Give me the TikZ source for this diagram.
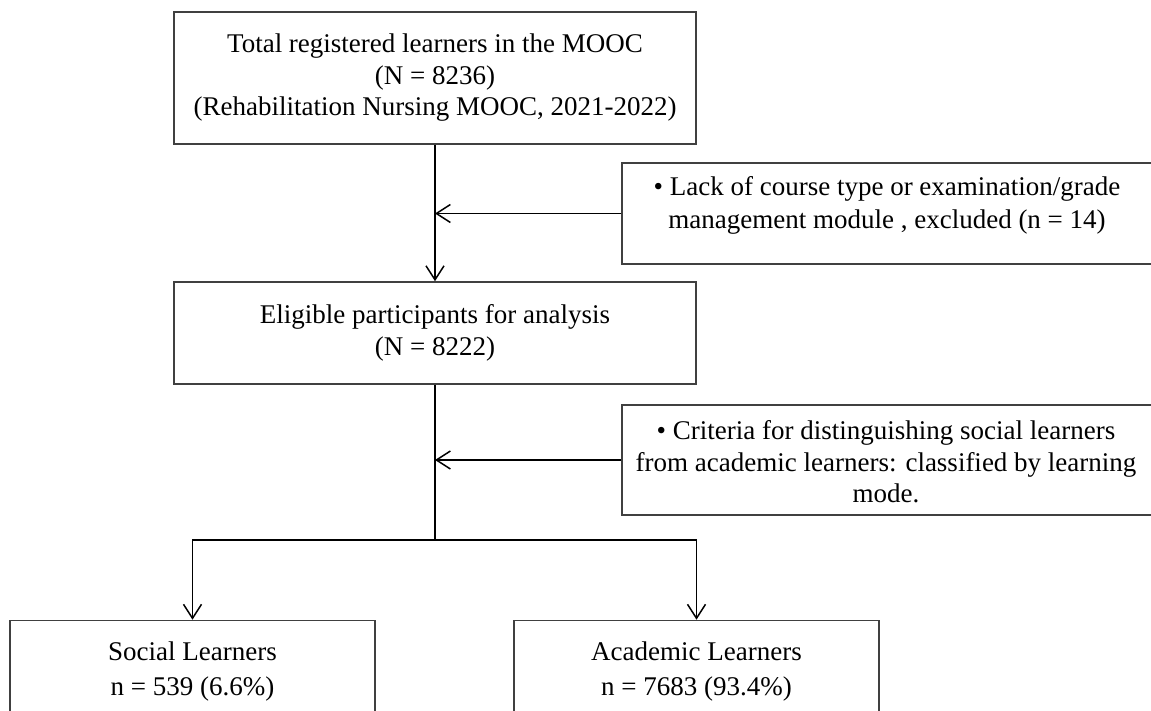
\documentclass[tikz,border=0pt]{standalone}
\usepackage{fontspec}
\setmainfont{Liberation Serif}
\usetikzlibrary{arrows.meta,positioning}

\begin{document}
\begin{tikzpicture}[x=1pt,y=-1pt,
		box/.style={draw=black!75,line width=1.6pt,minimum width=522pt,inner sep=0pt,align=center,font=\fontsize{27}{31.5}\selectfont},
		txt/.style={inner sep=0pt,align=center,font=\fontsize{27}{33}\selectfont},
		flow/.style={line width=1.5pt,-{Straight Barb[length=14pt,width=18pt,line width=1.5pt]}},
		line/.style={line width=1.5pt}]
		\useasboundingbox (0,0) rectangle (1151,711);
		\clip (0,0) rectangle (1151,711);
		\node[box,minimum height=132pt] (reg) at (435,78) {Total registered learners in the MOOC\\(N = 8236)\\(Rehabilitation Nursing MOOC, 2021-2022)};
		\node[box,minimum height=102pt] (elig) at (435,333) {Eligible participants for analysis\\(N = 8222)};
		\node[box,minimum width=536pt,minimum height=101pt] (excl) at (890,213.5) {};
		\node[txt] (excltxt) at (887,205) {• Lack of course type or examination/grade\\management module , excluded (n = 14)};
		\node[box,minimum width=536pt,minimum height=110pt] (crit) at (890,460) {};
		\node[txt,font=\fontsize{27}{31.5}\selectfont] (crittxt) at (886,462) {• Criteria for distinguishing social learners\\from academic learners: classified by learning\\mode.};
		\node[box,minimum width=365pt,minimum height=103pt,font=\fontsize{27}{35}\selectfont] (soc) at (192.5,672) {Social Learners\\n = 539 (6.6\%)};
		\node[box,minimum width=365pt,minimum height=103pt,font=\fontsize{27}{35}\selectfont] (acad) at (696.5,672) {Academic Learners\\n = 7683 (93.4\%)};
		\coordinate (split) at (435,540);
		\draw[flow] (reg) -- (elig);
		\draw[flow] (excl.west) -- (excl.west -| reg.south);
		\draw[flow] (crit.west) -- (crit.west -| elig.south);
		\draw[line] (elig.south) -- (split);
		\draw[flow] (split) -| (soc.north);
		\draw[flow] (split) -| (acad.north);
	\end{tikzpicture}
\end{document}
